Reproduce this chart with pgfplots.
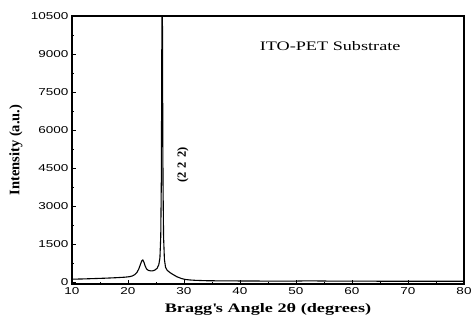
\documentclass[border=0pt]{standalone}
\usepackage{fontspec}
\setmainfont{Liberation Serif}
\setsansfont{Liberation Sans}
\newfontfamily\tickfont[FakeStretch=1.35]{Liberation Sans}
\newfontfamily\labfont[FakeStretch=1.4]{Liberation Serif}
\newfontfamily\ylabfont{Liberation Serif}
\usepackage{pgfplots}
\pgfplotsset{compat=1.18}
\begin{document}
\begin{tikzpicture}
\begin{axis}[
  scale only axis,
  width=392pt, height=268pt,
  xmin=10, xmax=80, ymin=-80, ymax=10500,
  xtick={10,20,...,80},
  ytick={0,1500,...,10500},
  scaled ticks=false,
  minor x tick num=1,
  minor y tick num=1,
  tick align=inside,
  major tick length=4pt,
  minor tick length=2.5pt,
  xtick pos=bottom, ytick pos=left,
  axis line style={line width=1.4pt},
  every tick/.style={black, line width=0.8pt},
  /pgf/number format/assume math mode=true,
  /pgf/number format/1000 sep={},
  ticklabel style={font=\tickfont\fontsize{10}{12}\selectfont},
  xlabel={\textbf{Bragg\textquotesingle s Angle 2θ (degrees)}},
  ylabel={\textbf{Intensity (a.u.)}},
  xlabel style={font=\labfont\fontsize{13}{15}\selectfont, at={([yshift=-25pt]axis description cs:0.5,0)}, anchor=center},
  ylabel style={font=\ylabfont\fontsize{14.5}{16}\selectfont, at={([xshift=-56pt]axis description cs:0,0.5)}, anchor=center},
  clip=true,
]
\addplot[black, line width=1.1pt] coordinates {
(10,110) (12,120) (14,135) (16,150) (18,170) (19.5,190) (20.3,210) (20.8,240)
(21.2,290) (21.6,380) (21.9,500) (22.2,680) (22.45,830) (22.65,870) (22.85,780)
(23.05,640) (23.3,520) (23.6,460) (24.0,440) (24.4,440) (24.8,470) (25.2,540)
(25.5,680) (25.7,950) (25.85,1800) (25.95,4000) (26.02,8000) (26.06,11000)
(26.14,11000) (26.18,8000) (26.25,4000) (26.35,1800) (26.5,900) (26.7,580)
(27.0,460) (27.5,370) (28.0,300) (28.7,210) (29.5,140) (30.2,100) (31,80)
(32,65) (34,50) (36,45) (40,40) (45,35) (50,35) (52,45) (54,40) (56,35)
(60,35) (65,30) (70,30) (75,30) (80,30)
};
\node[font=\labfont\fontsize{13}{15}\selectfont] at (axis cs:56.1,9320) {ITO-PET Substrate};
\node[rotate=90, font=\bfseries\fontsize{12.5}{14}\selectfont] at (axis cs:29.8,4620) {(2\,\,2\,\,2)};
\end{axis}
\pgfresetboundingbox
\path ([xshift=-72pt,yshift=-40pt]current axis.south west) rectangle ([xshift=7pt,yshift=16pt]current axis.north east);
\end{tikzpicture}
\end{document}
